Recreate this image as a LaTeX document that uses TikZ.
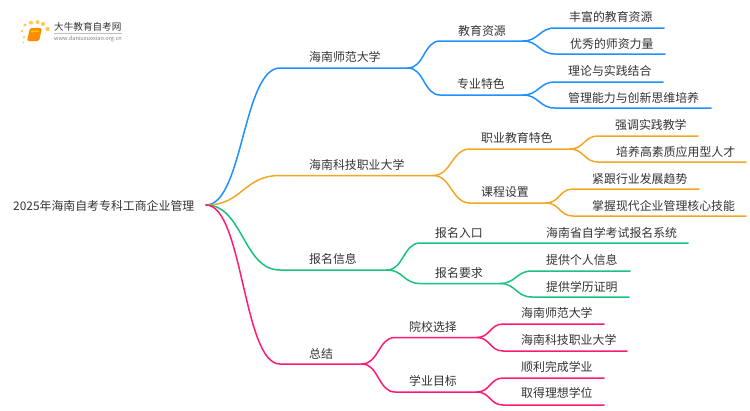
\documentclass[tikz,border=0pt]{standalone}
\usepackage{fontspec}
\setmainfont{Noto Sans CJK SC}
\usepackage{tikz}
\usetikzlibrary{calc, positioning}
\definecolor{brblue}{HTML}{1E90FF}
\definecolor{brorange}{HTML}{F5A623}
\definecolor{brgreen}{HTML}{19C37D}
\definecolor{brpink}{HTML}{FF1A75}
\definecolor{inkdark}{HTML}{333333}
\tikzset{
	label/.style={anchor=west, inner sep=0pt, text=inkdark, font=\fontsize{11.9}{12}\selectfont},
	link/.style={to path={.. controls ($(\tikztostart)!.5!(\tikztostart-|\tikztotarget)$) and ($(\tikztotarget)!.5!(\tikztotarget-|\tikztostart)$) .. (\tikztotarget)}},
	branch/.style={line width=1.5pt, line cap=round}
}
\begin{document}
\begin{tikzpicture}[x=1pt, y=-1pt]
	\useasboundingbox (0,0) rectangle (750,410);
	\coordinate (root) at (206,205);

	% first branch
	\coordinate (sfdx) at (280,68);
	\coordinate (sfdxe) at (408,68);
	\coordinate (jyzy) at (440,41);
	\coordinate (jyzye) at (523,41);
	\coordinate (zytz) at (440,95);
	\coordinate (zytze) at (523,95);
	\coordinate (ffA) at (555,28);
	\coordinate (ffAe) at (664,28);
	\coordinate (ffB) at (555,54);
	\coordinate (ffBe) at (665,54);
	\coordinate (zyA) at (555,82);
	\coordinate (zyAe) at (663,82);
	\coordinate (zyB) at (555,108);
	\coordinate (zyBe) at (711,108);
	\draw [branch, brblue] (root) to [link] (sfdx) -- (sfdxe);
	\draw [branch, brblue] (sfdxe) to [link] (jyzy) -- (jyzye);
	\draw [branch, brblue] (sfdxe) to [link] (zytz) -- (zytze);
	\draw [branch, brblue] (jyzye) to [link] (ffA) -- (ffAe);
	\draw [branch, brblue] (jyzye) to [link] (ffB) -- (ffBe);
	\draw [branch, brblue] (zytze) to [link] (zyA) -- (zyAe);
	\draw [branch, brblue] (zytze) to [link] (zyB) -- (zyBe);

	% second branch
	\coordinate (kjzy) at (280,175.5);
	\coordinate (kjzye) at (433,175.5);
	\coordinate (zyjy) at (470,149);
	\coordinate (zyjye) at (570,149);
	\coordinate (kcsz) at (470,203);
	\coordinate (kcsze) at (546,203);
	\coordinate (qdA) at (598,136);
	\coordinate (qdAe) at (698,136);
	\coordinate (qdB) at (598,162);
	\coordinate (qdBe) at (746,162);
	\coordinate (jgA) at (573,189);
	\coordinate (jgAe) at (699,189);
	\coordinate (jgB) at (573,216);
	\coordinate (jgBe) at (746,216);
	\draw [branch, brorange] (root) to [link] (kjzy) -- (kjzye);
	\draw [branch, brorange] (kjzye) to [link] (zyjy) -- (zyjye);
	\draw [branch, brorange] (kjzye) to [link] (kcsz) -- (kcsze);
	\draw [branch, brorange] (zyjye) to [link] (qdA) -- (qdAe);
	\draw [branch, brorange] (zyjye) to [link] (qdB) -- (qdBe);
	\draw [branch, brorange] (kcsze) to [link] (jgA) -- (jgAe);
	\draw [branch, brorange] (kcsze) to [link] (jgB) -- (jgBe);

	% third branch
	\coordinate (bmxx) at (280,270);
	\coordinate (bmxxe) at (387,270);
	\coordinate (bmrk) at (420,243);
	\coordinate (bmrke) at (688,243);
	\coordinate (bmyq) at (420,283.5);
	\coordinate (bmyqe) at (500,283.5);
	\coordinate (tgA) at (532,271);
	\coordinate (tgAe) at (630,271);
	\coordinate (tgB) at (532,297);
	\coordinate (tgBe) at (629,297);
	\draw [branch, brgreen] (root) to [link] (bmxx) -- (bmxxe);
	\draw [branch, brgreen] (bmxxe) to [link] (bmrk) -- (bmrke);
	\draw [branch, brgreen] (bmxxe) to [link] (bmyq) -- (bmyqe);
	\draw [branch, brgreen] (bmyqe) to [link] (tgA) -- (tgAe);
	\draw [branch, brgreen] (bmyqe) to [link] (tgB) -- (tgBe);

	% fourth branch
	\coordinate (zj) at (280,364);
	\coordinate (zje) at (362,364);
	\coordinate (yxxz) at (395,337.5);
	\coordinate (yxxze) at (477,337.5);
	\coordinate (xymb) at (395,392);
	\coordinate (xymbe) at (477,392);
	\coordinate (yxA) at (503,324);
	\coordinate (yxAe) at (604,324);
	\coordinate (yxB) at (503,351);
	\coordinate (yxBe) at (627,351);
	\coordinate (xyA) at (503,378);
	\coordinate (xyAe) at (604,378);
	\coordinate (xyB) at (503,405);
	\coordinate (xyBe) at (604,405);
	\draw [branch, brpink] (root) to [link] (zj) -- (zje);
	\draw [branch, brpink] (zje) to [link] (yxxz) -- (yxxze);
	\draw [branch, brpink] (zje) to [link] (xymb) -- (xymbe);
	\draw [branch, brpink] (yxxze) to [link] (yxA) -- (yxAe);
	\draw [branch, brpink] (yxxze) to [link] (yxB) -- (yxBe);
	\draw [branch, brpink] (xymbe) to [link] (xyA) -- (xyAe);
	\draw [branch, brpink] (xymbe) to [link] (xyB) -- (xyBe);

	\node [label] (title) at (13,206) {2025年海南自考专科工商企业管理};

	\node [label] (sfdxtext) at (309,57) {海南师范大学};
	\node [label] (jyzytext) at (458,31) {教育资源};
	\node [label] (zytztext) at (457,84) {专业特色};
	\node [label] (ffAtext) at (569,17) {丰富的教育资源};
	\node [label] (ffBtext) at (570,44) {优秀的师资力量};
	\node [label] (zyAtext) at (568,71) {理论与实践结合};
	\node [label] (zyBtext) at (568,98) {管理能力与创新思维培养};

	\node [label] (kjzytext) at (309,165) {海南科技职业大学};
	\node [label] (zyjytext) at (481,138) {职业教育特色};
	\node [label] (kcsztext) at (481,192) {课程设置};
	\node [label] (qdAtext) at (615,125) {强调实践教学};
	\node [label] (qdBtext) at (616,152) {培养高素质应用型人才};
	\node [label] (jgAtext) at (592,179) {紧跟行业发展趋势};
	\node [label] (jgBtext) at (592,206) {掌握现代企业管理核心技能};

	\node [label] (bmxxtext) at (309,259) {报名信息};
	\node [label] (bmrktext) at (435,233) {报名入口};
	\node [label] (bmyqtext) at (435,273) {报名要求};
	\node [label] (xttext) at (546,233) {海南省自学考试报名系统};
	\node [label] (tgAtext) at (546,260) {提供个人信息};
	\node [label] (tgBtext) at (546,287) {提供学历证明};

	\node [label] (zjtext) at (309,354) {总结};
	\node [label] (yxxztext) at (409,327) {院校选择};
	\node [label] (xymbtext) at (409,381) {学业目标};
	\node [label] (yxAtext) at (521,313) {海南师范大学};
	\node [label] (yxBtext) at (521,340) {海南科技职业大学};
	\node [label] (xyAtext) at (521,367) {顺利完成学业};
	\node [label] (xyBtext) at (521,393) {取得理想学位};

	% logo
	\foreach \dx/\dy/\dr in {25/25/1.7, 31/22.7/2, 37.5/22/2, 43/24/2, 47.5/29/2.2, 22/31/1.3, 24/37/1.1, 23.5/42.5/.8}
		\fill [orange!60!yellow, opacity=.7] (\dx,\dy) circle (\dr);
	\fill [rounded corners=1.5pt, orange!90!yellow] (30,28) -- (42,28) -- (39,41) -- (27,41) -- cycle;
	\fill [orange!40!yellow] (31,30.5) -- (39,30.5) -- (38.6,32) -- (30.6,32) -- cycle;
	\node [anchor=west, inner sep=0pt, text=inkdark, font=\fontsize{9.6}{10}\selectfont] (logotext) at (54,27) {大牛教育自考网};
	\draw [gray!50, line width=.5pt] (54,33.5) -- (122,33.5);
	\node [anchor=west, inner sep=0pt, text=gray, font=\fontsize{5.6}{6}\selectfont] (logourl) at (54,39) {www.daniuxuexiao.org.cn};
\end{tikzpicture}
\end{document}
